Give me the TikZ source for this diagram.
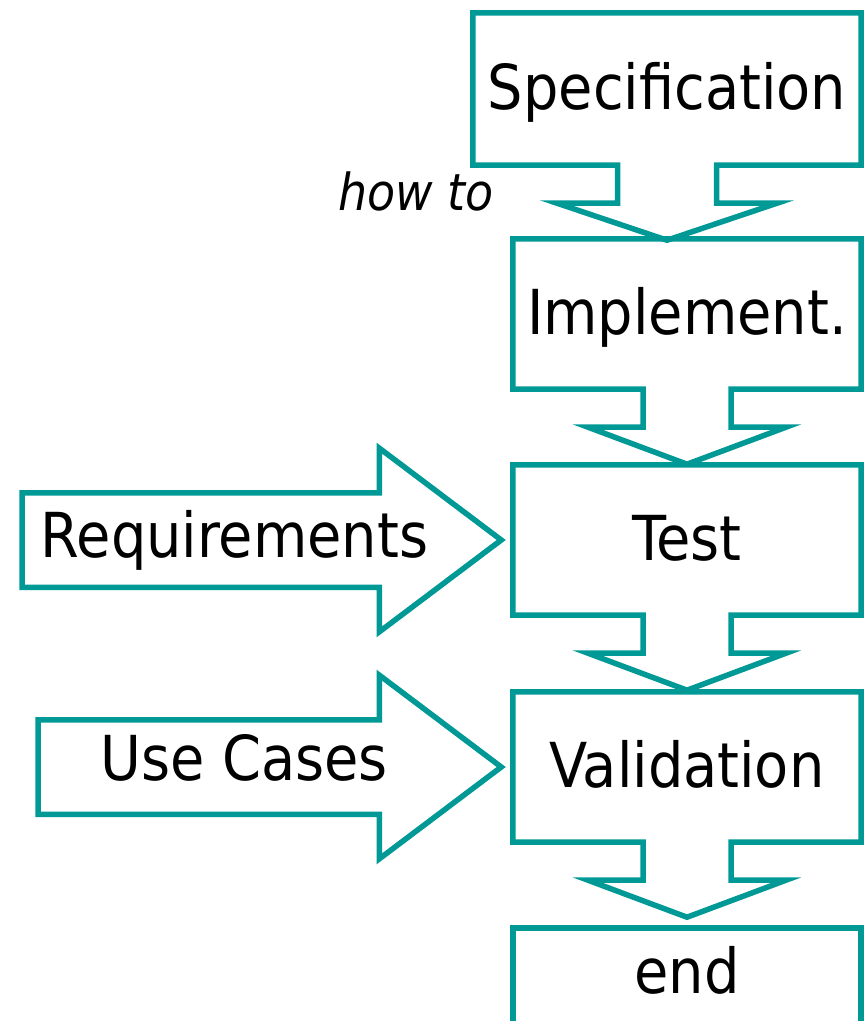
\documentclass[tikz,border=0pt]{standalone}
\usepackage{fontspec}
\setmainfont{DejaVu Sans Condensed}
\usetikzlibrary{shapes.arrows,calc}
\definecolor{flowteal}{RGB}{0,153,150}

% box with a block arrow hanging from its bottom edge
\newcommand{\stageoutline}[3]{%
  \draw[outline] (#1.south west) -- (#1.north west) -- (#1.north east) -- (#1.south east)
    -- ($(#1.south)+(#2,0)$) -- ++(0,38) -- ($(#1.south)+(#3,38)$) -- ($(#1.south)+(0,75)$)
    -- ($(#1.south)+(-#3,38)$) -- ($(#1.south)+(-#2,38)$) -- ($(#1.south)+(-#2,0)$) -- cycle;}

\begin{document}
\begin{tikzpicture}[x=1pt,y=-1pt,line join=miter]
        \tikzstyle{stage}=[rectangle,minimum width=348pt,minimum height=150pt,text height=40pt,text depth=0pt,inner sep=0pt,font=\fontsize{62}{70}\selectfont]
        \tikzstyle{outline}=[draw=flowteal,line width=5.5pt]
        \tikzstyle{inarrow}=[single arrow,draw=flowteal,line width=5.5pt,text height=44.5pt,text depth=44.5pt,minimum width=178pt,single arrow head extend=44.5pt,single arrow tip angle=74,inner sep=0pt,anchor=tip]
        \tikzstyle{lbl}=[text height=40pt,text depth=0pt,inner sep=0pt,font=\fontsize{62}{70}\selectfont]
        \useasboundingbox (0,0) rectangle (863,1021);
        \node [stage,minimum width=388pt,minimum height=152pt] (spec) at (667,89) {Specification};
        \node [stage] (impl) at (687,314) {Implement.};
        \node [stage] (test) at (687,540) {Test};
        \node [stage] (valid) at (687,767) {Validation};
        \node [stage,minimum height=90pt] (finish) at (687,973) {end};
        \stageoutline{spec}{49.5}{110}
        \stageoutline{impl}{44}{99}
        \stageoutline{test}{44}{99}
        \stageoutline{valid}{44}{99}
        \draw[outline] ([yshift=-40pt]finish.south west) -- (finish.north west) -- (finish.north east) -- ([yshift=-40pt]finish.south east);
        \node [font=\fontsize{51}{60}\selectfont\itshape,anchor=base west,inner sep=0pt] (howto) at (338,210) {how to};
        \node [inarrow,minimum height=479pt] (req) at ([xshift=-7pt]test.west) {};
        \node [inarrow,minimum height=463pt] (uc) at ([xshift=-7pt]valid.west) {};
        \node [lbl] (reqtext) at (234.5,537) {Requirements};
        \node [lbl] (uctext) at (244,760) {Use Cases};
\end{tikzpicture}
\end{document}
